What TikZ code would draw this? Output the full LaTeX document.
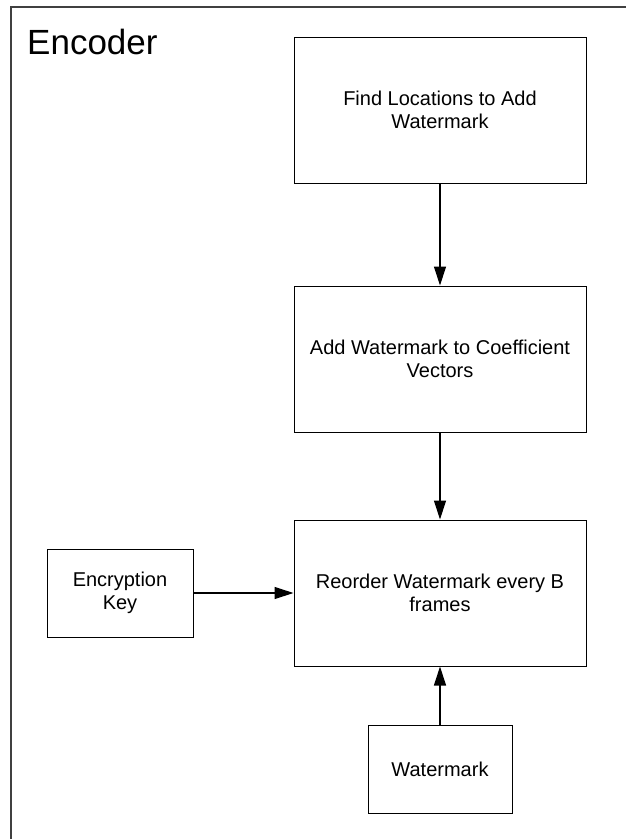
\documentclass[tikz,border=0pt]{standalone}
\usepackage{fontspec}
\setmainfont{Liberation Sans}
\usetikzlibrary{arrows.meta,positioning}

\tikzset{
  procbox/.style={draw=black, line width=1pt, inner sep=0pt, align=center,
    font=\fontsize{20}{23}\selectfont},
  flow/.style={draw=black, line width=1.2pt,
    -{Triangle[length=19pt,width=12pt]}},
  frameline/.style={draw=black!75, line width=2pt}
}

\begin{document}
\begin{tikzpicture}[x=1pt,y=-1pt]
  \useasboundingbox (0,0) rectangle (626,839);
  \clip (0,0) rectangle (626,839);

  % enclosing frame, running past the right and bottom edges
  \draw[frameline] (11,870) -- (11,7) -- (660,7);
  \node[anchor=base west, inner sep=0pt, font=\fontsize{35}{40}\selectfont]
    (title) at (27,54) {Encoder};

  % processing steps
  \node[procbox, minimum width=292pt, minimum height=146pt] (find) at (440,110)
    {Find Locations to Add\\Watermark};
  \node[procbox, minimum width=292pt, minimum height=146pt] (add) at (440,359)
    {Add Watermark to Coefficient\\Vectors};
  \node[procbox, minimum width=292pt, minimum height=146pt] (reorder) at (440,593)
    {Reorder Watermark every B\\frames};
  \node[procbox, minimum width=146pt, minimum height=88pt] (key) at (120,593)
    {Encryption\\Key};
  \node[procbox, minimum width=144pt, minimum height=88pt] (wm) at (440,769)
    {Watermark};

  % connectors
  \draw[flow] (find) -- (add);
  \draw[flow] (add) -- (reorder);
  \draw[flow] (key) -- (reorder);
  \draw[flow] (wm) -- (reorder);
\end{tikzpicture}
\end{document}
